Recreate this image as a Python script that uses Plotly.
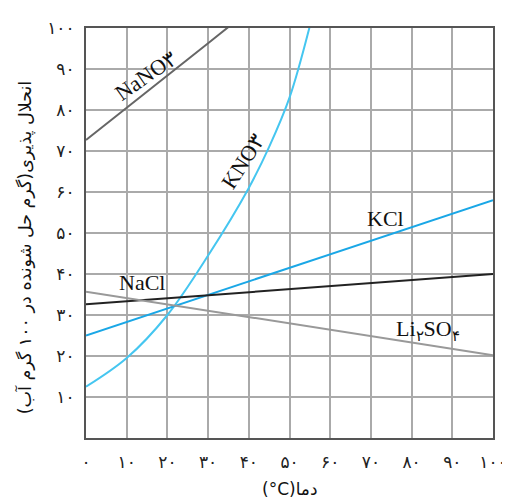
import plotly.graph_objects as go

temps_nano3 = [0, 10, 20, 30, 40]
sol_nano3 = [72.7, 80.5, 88.4, 96.3, 104.2]

temps_kno3 = [0, 10, 20, 30, 40, 45, 50, 55]
sol_kno3 = [12.5, 19.5, 30.0, 44.5, 61.0, 71.0, 83.0, 100.5]

temps_kcl = [0, 100]
sol_kcl = [25.0, 58.0]

temps_nacl = [0, 100]
sol_nacl = [32.6, 40.0]

temps_li2so4 = [0, 100]
sol_li2so4 = [35.7, 20.2]

tick_vals = [0, 10, 20, 30, 40, 50, 60, 70, 80, 90, 100]
tick_text = ["۰", "۱۰", "۲۰", "۳۰", "۴۰", "۵۰", "۶۰", "۷۰", "۸۰", "۹۰", "۱۰۰"]

fig = go.Figure()
fig.add_trace(go.Scatter(x=temps_nano3, y=sol_nano3, mode="lines",
                         line=dict(color="#666666", width=2)))
fig.add_trace(go.Scatter(x=temps_kno3, y=sol_kno3, mode="lines",
                         line=dict(color="#45c6f0", width=2, shape="spline")))
fig.add_trace(go.Scatter(x=temps_kcl, y=sol_kcl, mode="lines",
                         line=dict(color="#1aa7e6", width=2)))
fig.add_trace(go.Scatter(x=temps_nacl, y=sol_nacl, mode="lines",
                         line=dict(color="#222222", width=2)))
fig.add_trace(go.Scatter(x=temps_li2so4, y=sol_li2so4, mode="lines",
                         line=dict(color="#999999", width=2)))

serif = dict(family="Liberation Serif", size=22, color="#111111")
labels = [
    ("NaNO۳", 14.7, 88.5, -35),
    ("KNO۳", 38.5, 67.5, -57),
    ("KCl", 73.5, 53.6, 0),
    ("NaCl", 13.8, 38.0, 0),
    ("Li<sub>۲</sub>SO<sub>۴</sub>", 84.0, 26.4, 0),
]
for txt, x, y, ang in labels:
    fig.add_annotation(x=x, y=y, text=txt, showarrow=False, textangle=ang,
                       font=serif, xref="x", yref="y")

fig.add_annotation(xref="paper", yref="paper", x=-0.15, y=0.465,
                   xanchor="center", yanchor="middle",
                   text="\u200fانحلال پذیری(گرم حل شونده در ۱۰۰ گرم آب)\u200f",
                   textangle=-90, showarrow=False,
                   font=dict(family="DejaVu Sans", size=17.5, color="#111111"))
fig.add_annotation(xref="paper", yref="paper", x=0.5, y=-0.125,
                   xanchor="center", yanchor="middle",
                   text="(°C)دما", showarrow=False,
                   font=dict(family="DejaVu Sans", size=17, color="#111111"))

axis_common = dict(
    range=[0, 100], tickvals=tick_vals, ticktext=tick_text,
    showgrid=True, gridcolor="#aaaaaa", gridwidth=2,
    showline=True, linecolor="#555555", linewidth=2, mirror=True,
    zeroline=False, ticks="", tickfont=dict(family="DejaVu Sans", size=17, color="#222222"),
)
fig.update_xaxes(**axis_common, ticklabelstandoff=8)
fig.update_yaxes(**axis_common)
fig.update_yaxes(tickvals=tick_vals[1:], ticktext=tick_text[1:], ticklabelstandoff=6)

# page body has an 8px default margin, so shift margins to keep the plot area in place
fig.update_layout(
    width=510, height=502, showlegend=False,
    margin=dict(l=78, r=25, t=10, b=72),
    plot_bgcolor="white", paper_bgcolor="white",
)
fig.write_html("out.html")
